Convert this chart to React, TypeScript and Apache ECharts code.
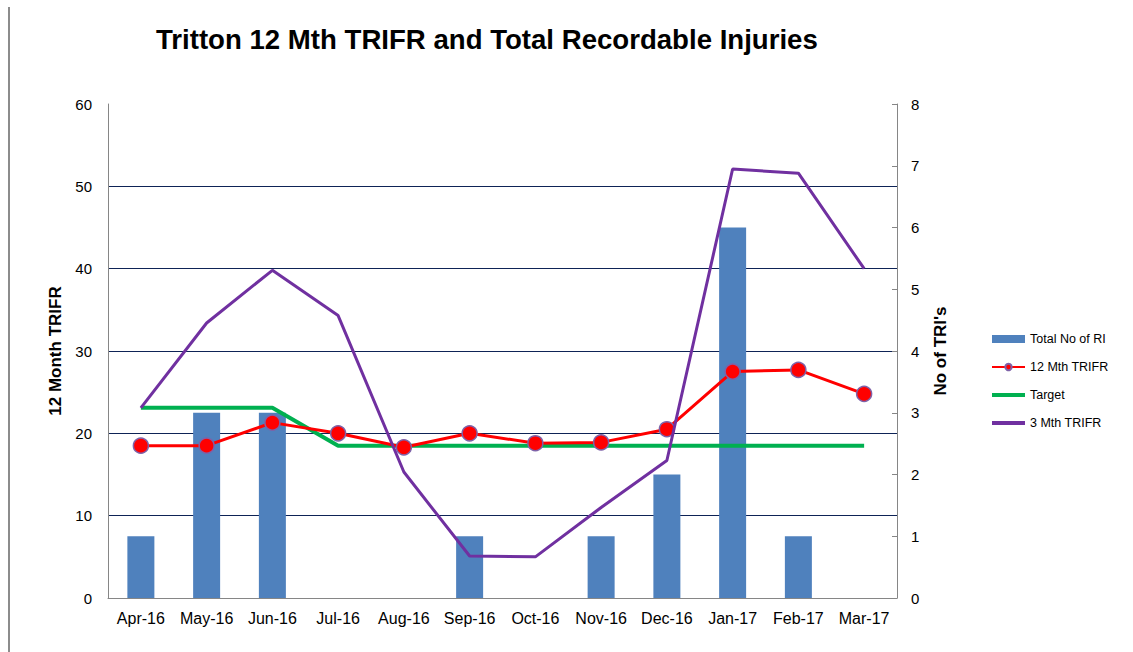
import React, { useEffect, useRef } from "react";
import * as echarts from "echarts";

const categories = ["Apr-16", "May-16", "Jun-16", "Jul-16", "Aug-16", "Sep-16", "Oct-16", "Nov-16", "Dec-16", "Jan-17", "Feb-17", "Mar-17"];
const totalRI = [1, 3, 3, 0, 0, 1, 0, 1, 2, 6, 1, 0];
const trifr12 = [18.5, 18.5, 21.3, 20.0, 18.3, 20.0, 18.8, 18.9, 20.5, 27.5, 27.7, 24.8];
const target = [23.1, 23.1, 23.1, 18.5, 18.5, 18.5, 18.5, 18.5, 18.5, 18.5, 18.5, 18.5];
const trifr3 = [23.1, 33.4, 39.8, 34.3, 15.3, 5.1, 5.0, 11.0, 16.7, 52.1, 51.6, 40.0];

const lineIcon = "path://M0,0 L33,0 L33,4 L0,4 Z";

export default function App() {
  const ref = useRef<HTMLDivElement>(null);
  useEffect(() => {
    const chart = echarts.init(ref.current!, null, { renderer: "svg" });
    chart.setOption({
      animation: false,
      backgroundColor: "#ffffff",
      title: {
        text: "Tritton 12 Mth TRIFR and Total Recordable Injuries",
        left: 151,
        top: 20,
        textStyle: { fontFamily: "Liberation Sans, Arial", fontWeight: "bold", fontSize: 27.6, color: "#000" },
      },
      graphic: [
        { type: "line", shape: { x1: 9, y1: 7, x2: 9, y2: 652 }, style: { stroke: "#8c8c8c", lineWidth: 2 } },
      ],
      legend: {
        orient: "vertical",
        left: 986,
        top: 327,
        itemWidth: 33,
        itemHeight: 8,
        itemGap: 14,
        textStyle: { fontFamily: "Liberation Sans, Arial", fontSize: 12.5, color: "#000", lineHeight: 14 },
        data: [
          { name: "Total No of RI", icon: "rect" },
          { name: "12 Mth TRIFR" },
          { name: "Target", icon: lineIcon },
          { name: "3 Mth TRIFR", icon: lineIcon },
        ],
      },
      grid: { left: 108, right: 236, top: 104, bottom: 54 },
      xAxis: {
        type: "category",
        data: categories,
        axisLine: { lineStyle: { color: "#868686", width: 1 } },
        axisTick: { show: false },
        axisLabel: { interval: 0, fontFamily: "Liberation Sans, Arial", fontSize: 16, color: "#000", margin: 12 },
      },
      yAxis: [
        {
          type: "value",
          min: 0,
          max: 60,
          interval: 10,
          name: "12 Month TRIFR",
          nameLocation: "middle",
          nameRotate: 90,
          nameGap: 29,
          nameTextStyle: { fontFamily: "Liberation Sans, Arial", fontWeight: "bold", fontSize: 17, color: "#000" },
          axisLine: { show: true, lineStyle: { color: "#868686" } },
          axisTick: { show: false },
          axisLabel: { fontFamily: "Liberation Sans, Arial", fontSize: 15, color: "#000", margin: 16 },
          splitLine: { show: true, showMinLine: false, showMaxLine: false, lineStyle: { color: "#0E2356", width: 1 } },
        },
        {
          type: "value",
          min: 0,
          max: 8,
          interval: 1,
          name: "No of TRI's",
          nameLocation: "middle",
          nameRotate: 90,
          nameGap: 35,
          nameTextStyle: { fontFamily: "Liberation Sans, Arial", fontWeight: "bold", fontSize: 17, color: "#000" },
          axisLine: { show: true, lineStyle: { color: "#868686" } },
          axisTick: { show: true, inside: true, length: 5, lineStyle: { color: "#868686" } },
          axisLabel: { fontFamily: "Liberation Sans, Arial", fontSize: 15, color: "#000", margin: 14 },
          splitLine: { show: false },
        },
      ],
      series: [
        {
          name: "Total No of RI",
          type: "bar",
          yAxisIndex: 1,
          data: totalRI,
          barWidth: 27,
          itemStyle: { color: "#4F81BD" },
          z: 2,
        },
        {
          name: "12 Mth TRIFR",
          type: "line",
          data: trifr12,
          symbol: "circle",
          symbolSize: 15,
          lineStyle: { color: "#FF0000", width: 3 },
          itemStyle: { color: "#FF0000", borderColor: "#7E62A8", borderWidth: 1.5 },
          z: 4,
        },
        {
          name: "Target",
          type: "line",
          data: target,
          symbol: "none",
          lineStyle: { color: "#00B050", width: 4 },
          itemStyle: { color: "#00B050" },
          z: 3,
        },
        {
          name: "3 Mth TRIFR",
          type: "line",
          data: trifr3,
          symbol: "none",
          lineStyle: { color: "#7030A0", width: 3 },
          itemStyle: { color: "#7030A0" },
          z: 5,
        },
      ],
    });
    return () => chart.dispose();
  }, []);
  return <div ref={ref} style={{ width: 1133, height: 652, position: "absolute", left: 0, top: 0 }} />;
}
